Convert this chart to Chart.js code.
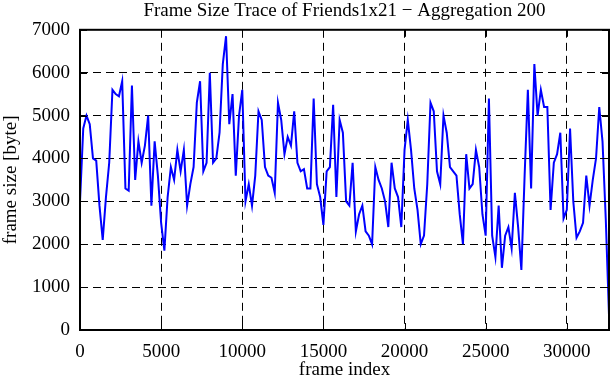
<!DOCTYPE html>
<html>
<head>
<meta charset="utf-8">
<script src="https://cdn.jsdelivr.net/npm/chart.js@4/dist/chart.umd.min.js"></script>
<style>
  html, body { margin: 0; padding: 0; background: #fff; }
  #wrap { width: 611px; height: 380px; }
</style>
</head>
<body>
<div id="wrap"><canvas id="traceChart" width="611" height="380"></canvas></div>
<script>
const aggregation = 200;

// aggregated frame sizes, one value per 200 frames
const frameSizes = [
    3000, 4700, 5000, 4800, 4000, 3950, 2900, 2100, 3100, 3900,
    5600, 5500, 5450, 5800, 3300, 3250, 5700, 3500, 4400, 3900,
    4300, 5000, 2900, 4400, 3600, 2500, 1850, 3100, 3800, 3500,
    4200, 3700, 4200, 2900, 3400, 3800, 5300, 5800, 3700, 3900,
    6000, 3900, 4000, 4600, 6200, 6850, 4800, 5500, 3600, 5000,
    5600, 3000, 3400, 2900, 3600, 5100, 4900, 3800, 3600, 3550,
    3200, 5300, 4900, 4100, 4500, 4300, 5100, 3900, 3700, 3750,
    3300, 3300, 5400, 3400, 3100, 2450, 3700, 3800, 5250, 3100,
    4900, 4600, 3000, 2900, 3900, 2300, 2700, 2900, 2300, 2200,
    2000, 3800, 3500, 3300, 3000, 2400, 3900, 3300, 3100, 2400,
    4200, 4900, 4200, 3300, 2800, 2000, 2200, 3400, 5300, 5100,
    3700, 3400, 5000, 4600, 3800, 3700, 3600, 2700, 2000, 4100,
    3300, 3400, 4200, 3800, 2700, 2200, 5400, 2200, 1700, 2900,
    1450, 2200, 2400, 1900, 3200, 2400, 1400, 3600, 5600, 3300,
    6200, 5000, 5600, 5200, 5200, 2800, 3900, 4100, 4600, 2600,
    2800, 4700, 3000, 2150, 2300, 2500, 3600, 2900, 3500, 4000,
    5200, 4400, 2600, 350
];

const xTicks = [0, 5000, 10000, 15000, 20000, 25000, 30000];
const yTicks = [0, 1000, 2000, 3000, 4000, 5000, 6000, 7000];

const points = frameSizes.map((v, i) => ({ x: i * aggregation, y: v }));

const serif = 'Liberation Serif, Times New Roman, serif';
Chart.defaults.font.family = serif;
Chart.defaults.color = '#000';

// gnuplot style frame with inward tick marks
const framePlugin = {
    id: 'frame',
    afterDraw(chart) {
        const ctx = chart.ctx;
        const a = chart.chartArea;
        const xs = chart.scales.x;
        const ys = chart.scales.y;
        ctx.save();
        ctx.strokeStyle = '#000';
        ctx.lineWidth = 1;
        ctx.beginPath();
        xTicks.forEach(t => {
            const p = Math.round(xs.getPixelForValue(t)) + 0.5;
            ctx.moveTo(p, a.bottom); ctx.lineTo(p, a.bottom - 7);
            ctx.moveTo(p, a.top); ctx.lineTo(p, a.top + 7);
        });
        yTicks.forEach(t => {
            const p = Math.round(ys.getPixelForValue(t)) + 0.5;
            ctx.moveTo(a.left, p); ctx.lineTo(a.left + 7, p);
            ctx.moveTo(a.right, p); ctx.lineTo(a.right - 7, p);
        });
        ctx.stroke();
        ctx.lineWidth = 2;
        ctx.strokeRect(a.left, a.top, a.right - a.left, a.bottom - a.top);
        ctx.restore();
    }
};

new Chart(document.getElementById('traceChart').getContext('2d'), {
    type: 'line',
    data: {
        datasets: [{
            data: points,
            borderColor: '#0000ff',
            borderWidth: 2,
            pointRadius: 0,
            tension: 0,
            fill: false
        }]
    },
    options: {
        responsive: false,
        animation: false,
        layout: { padding: { left: 0, right: 2, top: 0, bottom: 0 } },
        plugins: {
            legend: { display: false },
            tooltip: { enabled: false },
            title: {
                display: true,
                fullSize: false,
                text: 'Frame Size Trace of Friends1x21 \u2212 Aggregation 200',
                font: { size: 19, weight: 'normal', family: serif, lineHeight: 1.2 },
                color: '#000',
                padding: { top: 0, bottom: 7 }
            }
        },
        scales: {
            x: {
                type: 'linear',
                min: 0,
                max: 32600,
                afterFit(scale) { scale.height = 50; },
                afterBuildTicks(scale) { scale.ticks = xTicks.map(v => ({ value: v })); },
                ticks: {
                    font: { size: 19 },
                    padding: 11,
                    maxRotation: 0,
                    autoSkip: false,
                    callback: v => String(v)
                },
                grid: { color: '#000', lineWidth: 1, drawTicks: false },
                border: { display: false, dash: [8, 5] },
                title: {
                    display: true,
                    text: 'frame index',
                    font: { size: 19, lineHeight: 1 },
                    padding: { top: 0, bottom: 0 }
                }
            },
            y: {
                min: 0,
                max: 7000,
                afterFit(scale) { scale.width = 80; },
                afterBuildTicks(scale) { scale.ticks = yTicks.map(v => ({ value: v })); },
                ticks: {
                    font: { size: 19 },
                    padding: 10,
                    callback: v => String(v)
                },
                grid: { color: '#000', lineWidth: 1, drawTicks: false },
                border: { display: false, dash: [8, 5] },
                title: {
                    display: true,
                    text: 'frame size [byte]',
                    font: { size: 19 },
                    padding: { top: 0, bottom: 0 }
                }
            }
        }
    },
    plugins: [framePlugin]
});
</script>
</body>
</html>
